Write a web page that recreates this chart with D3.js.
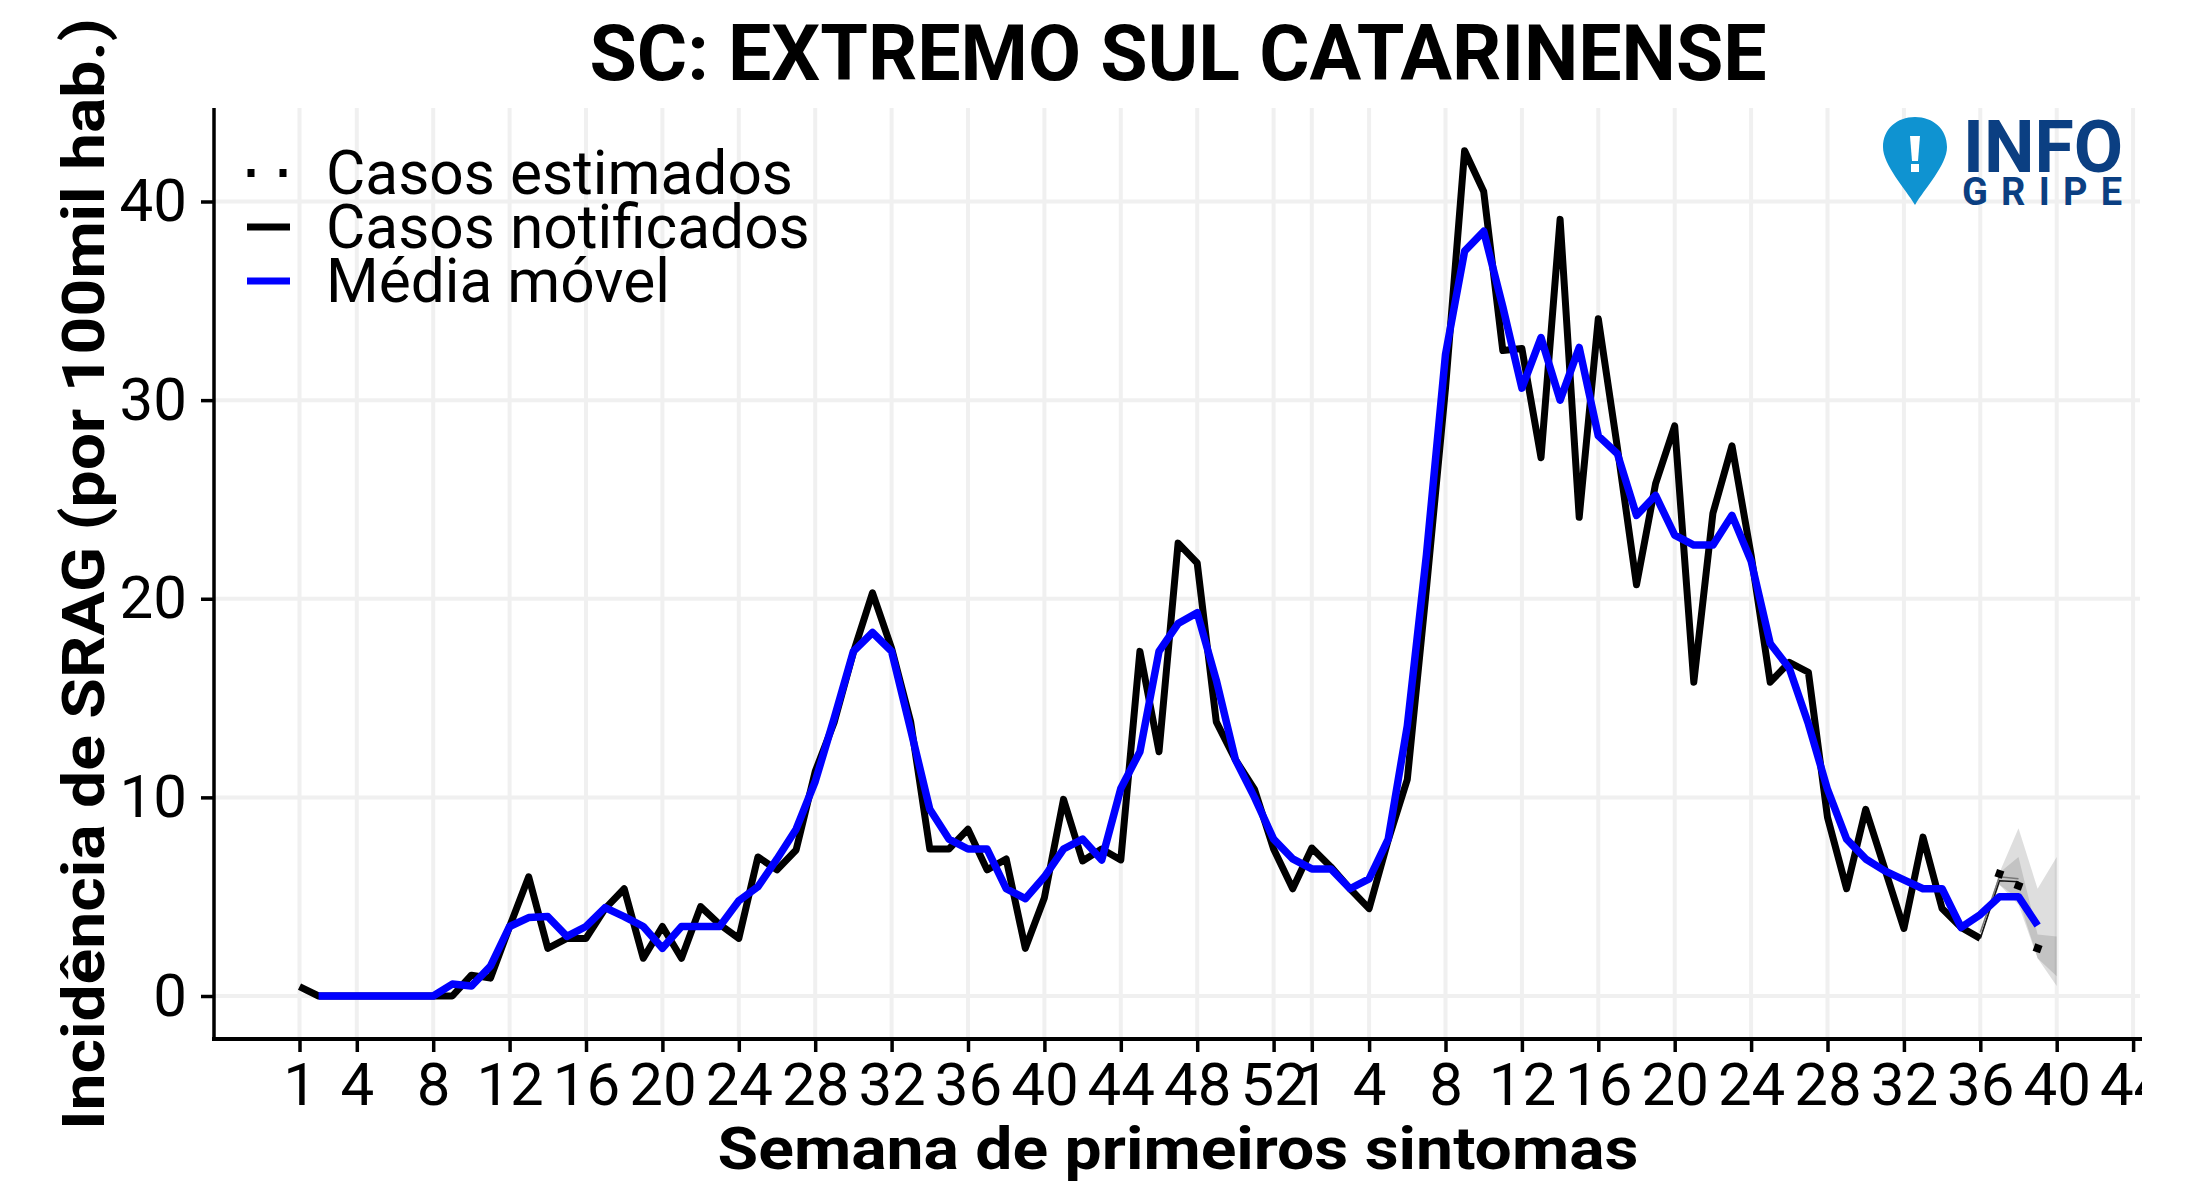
<!DOCTYPE html>
<html lang="pt">
<head>
<meta charset="utf-8">
<title>SC: EXTREMO SUL CATARINENSE</title>
<style>
  html, body { margin: 0; background: #fff; }
  text { font-family: Roboto, sans-serif; fill: #000; }
</style>
</head>
<body>
<script src="https://d3js.org/d3.v7.min.js"></script>
<script>
// semana corrida: 1..53 = primeiro ano, 54.. = segundo ano
var tickWeeks = [1,4,8,12,16,20,24,28,32,36,40,44,48,52,54,57,61,65,69,73,77,81,85,89,93,97];
var tickLabels = ["1","4","8","12","16","20","24","28","32","36","40","44","48","52","1","4","8","12","16","20","24","28","32","36","40","44"];
var yTicks = [0,10,20,30,40];

// a partir da semana 1
var notificados = [0.47,0,0,0,0,0,0,0,0,1.05,0.9,3.5,6,2.4,2.9,2.9,4.4,5.4,1.9,3.5,1.9,4.5,3.6,2.9,7,6.35,7.35,11.3,13.8,17.3,20.3,17.5,13.8,7.4,7.4,8.4,6.35,6.9,2.4,4.95,9.9,6.8,7.4,6.85,17.35,12.3,22.8,21.8,13.8,11.9,10.4,7.4,5.4,7.45,6.5,5.4,4.4,7.85,10.9,20.5,30.6,42.55,40.5,32.5,32.6,27.1,39.1,24.1,34.1,27.6,20.7,25.8,28.7,15.8,24.3,27.7,22.2,15.8,16.8,16.3,9,5.4,9.4,6.4,3.4,8,4.4,3.45,2.9];
// a partir da semana 2
var mediaMovel = [0,0,0,0,0,0,0,0.6,0.5,1.5,3.5,3.95,4,3,3.5,4.45,4,3.5,2.4,3.5,3.5,3.5,4.8,5.5,6.9,8.4,10.8,14,17.35,18.3,17.35,13.4,9.4,7.9,7.4,7.4,5.4,4.9,6,7.4,7.9,6.85,10.45,12.3,17.35,18.75,19.3,15.9,11.9,10,7.9,6.9,6.4,6.4,5.4,5.9,7.9,13.6,22.2,32.3,37.5,38.5,34.7,30.6,33.15,30,32.65,28.2,27.3,24.2,25.2,23.2,22.7,22.7,24.2,21.9,17.75,16.5,13.7,10.4,7.9,6.9,6.3,5.85,5.4,5.4,3.45,4.1,5,5,3.55];

var semanasEst = [89,90,91,92,93];
var estimados = [null,6.15,5.55,2.4,null];
var ribbonOuterHi = [2.9,6.2,8.45,5.4,7.0];
var ribbonOuterLo = [2.9,5.6,4.6,1.9,0.5];
var ribbonInnerHi = [2.9,6.2,7.0,3.1,3.0];
var ribbonInnerLo = [2.9,5.6,4.9,1.9,1.0];
var parcial1 = [2.9,5.8,5.75];
var parcial2 = [3.2,6.0,5.9];

var legendItems = ["Casos estimados","Casos notificados","Média móvel"];

var width = 2194, height = 1182;
var left = 214, right = 2140, top_ = 108, bottom = 1039;

var svg = d3.select("body").append("svg")
    .attr("width", width)
    .attr("height", height)
    .style("display", "block");

var x = d3.scaleLinear().domain([1,93]).range([299.5,2056.7]);
var y = d3.scaleLinear().domain([0,40]).range([996,201.5]);

svg.append("clipPath").attr("id","page")
  .append("rect").attr("x",0).attr("y",0).attr("width",2142).attr("height",height);

var root = svg.append("g").attr("clip-path","url(#page)");

// grade
root.append("g").selectAll("line").data(yTicks).enter().append("line")
    .attr("x1",left).attr("x2",right)
    .attr("y1",function(d){return y(d);}).attr("y2",function(d){return y(d);})
    .attr("stroke","#f0f0f0").attr("stroke-width",4);
root.append("g").selectAll("line").data(tickWeeks).enter().append("line")
    .attr("y1",top_).attr("y2",bottom)
    .attr("x1",function(d){return x(d);}).attr("x2",function(d){return x(d);})
    .attr("stroke","#f0f0f0").attr("stroke-width",4);

// faixas de estimativa
var area = function(hi,lo){
  return d3.area()
    .x(function(d,i){return x(semanasEst[i]);})
    .y0(function(d,i){return y(lo[i]);})
    .y1(function(d,i){return y(hi[i]);})(semanasEst);
};
root.append("path").attr("d",area(ribbonOuterHi,ribbonOuterLo)).attr("fill","#000").attr("fill-opacity",0.13);
root.append("path").attr("d",area(ribbonInnerHi,ribbonInnerLo)).attr("fill","#000").attr("fill-opacity",0.12);

var line = d3.line()
    .defined(function(d){return d[1] !== null;})
    .x(function(d){return x(d[0]);})
    .y(function(d){return y(d[1]);});

root.append("path")
    .attr("d",line(notificados.map(function(v,i){return [i+1,v];})))
    .attr("fill","none").attr("stroke","#000").attr("stroke-width",7).attr("stroke-linejoin","round");

[parcial1,parcial2].forEach(function(s,k){
  root.append("path")
    .attr("d",line(s.map(function(v,i){return [89+i,v];})))
    .attr("fill","none").attr("stroke",k ? "#777" : "#111").attr("stroke-width",1.6);
});

root.selectAll(".est").data(estimados.map(function(v,i){return [semanasEst[i],v];}).filter(function(d){return d[1] !== null;}))
  .enter().append("path").attr("class","est")
    .attr("d",d3.symbol().type(d3.symbolSquare).size(60))
    .attr("transform",function(d){return "translate("+x(d[0])+","+y(d[1])+") rotate(20)";})
    .attr("fill","#000");

root.append("path")
    .attr("d",line(mediaMovel.map(function(v,i){return [i+2,v];})))
    .attr("fill","none").attr("stroke","#0000ff").attr("stroke-width",7.5).attr("stroke-linejoin","round");

// eixos
var xAxis = d3.axisBottom(x).tickValues(tickWeeks).tickSize(13).tickPadding(10)
    .tickFormat(function(d,i){return tickLabels[i];});
var gx = root.append("g").attr("transform","translate(0,"+bottom+")").call(xAxis);
gx.select(".domain").remove();
gx.selectAll("line").attr("stroke","#000").attr("stroke-width",3.5);
gx.selectAll("text").attr("font-size",60).attr("font-family","Roboto").attr("fill","#000");

var yAxis = d3.axisLeft(y).tickValues(yTicks).tickSize(13).tickPadding(14);
var gy = root.append("g").attr("transform","translate("+left+",0)").call(yAxis);
gy.select(".domain").remove();
gy.selectAll("line").attr("stroke","#000").attr("stroke-width",3.5);
gy.selectAll("text").attr("font-size",60).attr("font-family","Roboto").attr("fill","#000");

root.append("line").attr("x1",left).attr("x2",left).attr("y1",top_).attr("y2",bottom+2)
    .attr("stroke","#000").attr("stroke-width",3.5);
root.append("line").attr("x1",left-2).attr("x2",right+2).attr("y1",bottom).attr("y2",bottom)
    .attr("stroke","#000").attr("stroke-width",4);

// titulos
root.append("text").attr("text-anchor","middle").attr("font-weight",700).attr("font-size",77)
    .attr("transform","translate(1178,80)")
    .text("SC: EXTREMO SUL CATARINENSE");
root.append("text").attr("text-anchor","middle").attr("font-weight",700).attr("font-size",59)
    .attr("transform","translate(1178,1169) scale(1.12,1)")
    .text("Semana de primeiros sintomas");
root.append("text").attr("text-anchor","middle").attr("font-weight",700).attr("font-size",59)
    .attr("transform","translate(104,574) rotate(-90) scale(1.12,1)")
    .text("Incidência de SRAG (por 100mil hab.)");

// legenda
var legendY = [173,227,281];
legendItems.forEach(function(t,i){
  root.append("text").attr("font-size",60.4)
      .attr("transform","translate(326,"+(legendY[i]+21)+")")
      .text(t);
});
root.selectAll(".legdot").data([251,283]).enter().append("rect").attr("class","legdot")
    .attr("x",function(d){return d-3.5;}).attr("y",legendY[0]-4).attr("width",7).attr("height",8).attr("fill","#000");
root.append("line").attr("x1",247).attr("x2",290).attr("y1",legendY[1]).attr("y2",legendY[1]).attr("stroke","#000").attr("stroke-width",7);
root.append("line").attr("x1",247).attr("x2",290).attr("y1",legendY[2]).attr("y2",legendY[2]).attr("stroke","#0000ff").attr("stroke-width",7);

// logo InfoGripe
var logo = root.append("g");
logo.append("path")
    .attr("d","M1915,205 C1905,188 1883,165 1883,147 C1883,129 1897,117 1915,117 C1933,117 1947,129 1947,147 C1947,165 1925,188 1915,205 Z")
    .attr("fill","#0f93d1");
logo.append("path").attr("d","M1910,136 L1920,136 L1918,161 L1912,161 Z").attr("fill","#fff");
logo.append("rect").attr("x",1911).attr("y",164).attr("width",8).attr("height",8).attr("fill","#fff");
logo.append("text").attr("x",1963).attr("y",172).attr("font-family","Liberation Sans").attr("font-weight",700)
    .attr("font-size",72).attr("textLength",160).attr("lengthAdjust","spacingAndGlyphs")
    .style("fill","#0b3f82").text("INFO");
logo.append("text").attr("x",1962).attr("y",205).attr("font-family","Liberation Sans").attr("font-weight",700)
    .attr("font-size",38).attr("textLength",160).attr("lengthAdjust","spacing")
    .style("fill","#0b3f82").text("GRIPE");
</script>
</body>
</html>
